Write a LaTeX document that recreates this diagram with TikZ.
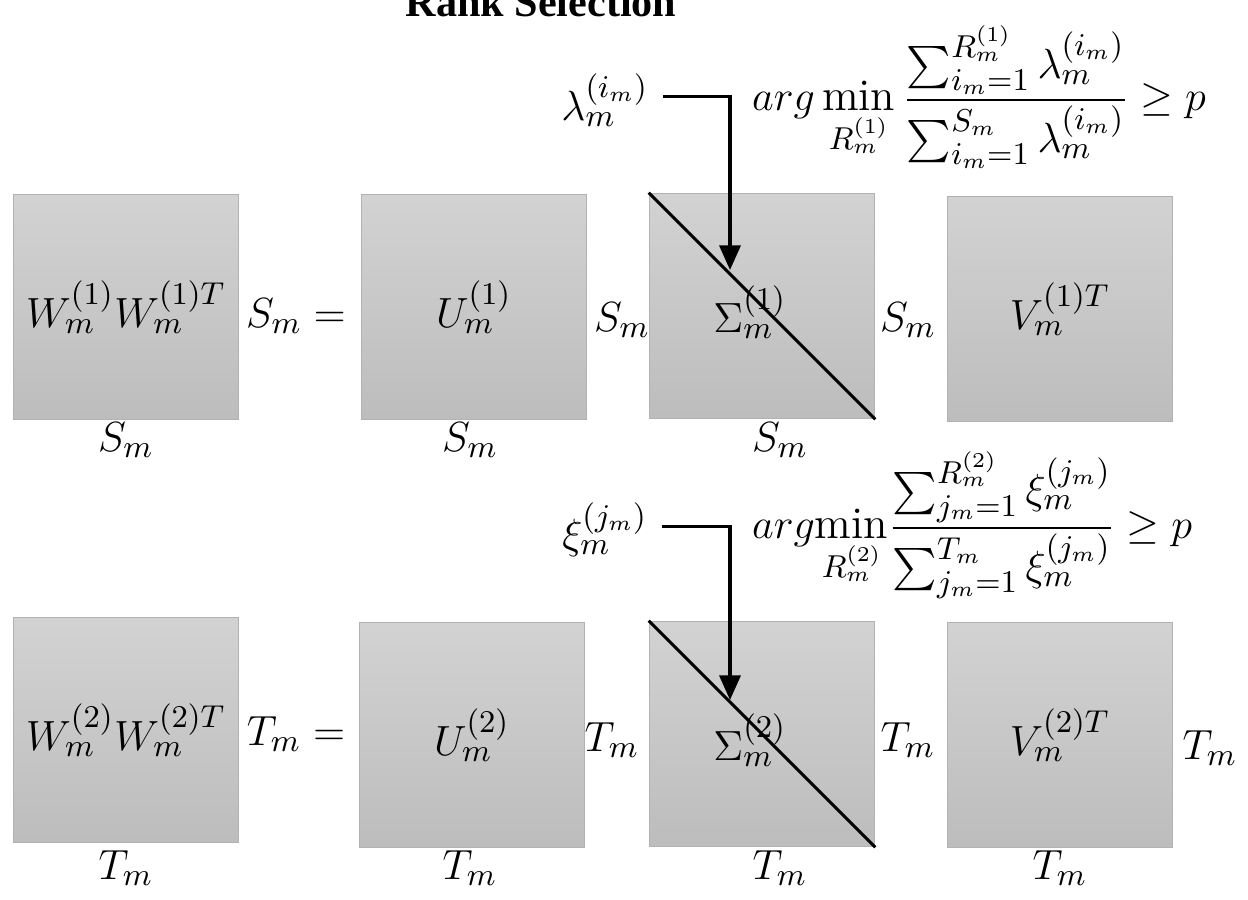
\documentclass[tikz,border=0pt]{standalone}
\usepackage{amsmath}
\usepackage{fontspec}
\newfontfamily\titlefont{Liberation Serif}
\usetikzlibrary{arrows.meta,positioning}
\newcommand\bigmath{\fontsize{12.8}{15}\selectfont}
\tikzset{
  mat/.style={draw=gray!60, top color=gray!35, bottom color=gray!52,
    minimum width=2.25cm, minimum height=2.25cm, inner sep=0pt, font=\bigmath},
  dim/.style={font=\bigmath, inner sep=1pt},
  sel/.style={-{Triangle[length=7pt,width=6pt]}, line width=0.9pt},
  diag/.style={line width=0.9pt},
}
\begin{document}
\begin{tikzpicture}[x=0.01cm,y=-0.01cm]
  \useasboundingbox (0,0) rectangle (1248,900);
  \node[font=\titlefont\bfseries\fontsize{12}{14}\selectfont, anchor=base] (title) at (541,17) {Rank Selection};

  % first row: S_m
  \node[mat] (w1) at (126,307) {$W_m^{(1)}W_m^{(1)T}$};
  \node[dim] (eq1) at (296,316) {$S_m =$};
  \node[mat] (u1) at (474,307) {$U_m^{(1)}$};
  \node[dim] (s1l) at (622,320) {$S_m$};
  \node[mat] (s1) at (762,306) {};
  \node[dim] at (750,312) (s1t) {$\Sigma_m^{(1)}$};
  \node[dim] (s1r) at (908,320) {$S_m$};
  \node[mat] (v1) at (1060,309) {$V_m^{(1)T}$};
  \node[dim] (w1b) at (126,440) {$S_m$};
  \node[dim] (u1b) at (470,440) {$S_m$};
  \node[dim] (s1b) at (780,440) {$S_m$};
  \draw[diag] (s1.north west) -- (s1.south east);

  \node[dim] (lam1) at (605,100) {$\lambda_m^{(i_m)}$};
  \node[dim, anchor=west] (crit1) at (748,97)
    {$\displaystyle arg\min_{R_m^{(1)}}\frac{\sum\nolimits_{i_m=1}^{R_m^{(1)}}\lambda_m^{(i_m)}}{\sum\nolimits_{i_m=1}^{S_m}\lambda_m^{(i_m)}} \geq p$};
  \coordinate (tip1) at (730,270);
  \draw[sel] ([xshift=3pt,yshift=1pt]lam1.east) -| (tip1);

  % second row: T_m
  \node[mat] (w2) at (126,730) {$W_m^{(2)}W_m^{(2)T}$};
  \node[dim] (eq2) at (296,734) {$T_m =$};
  \node[mat] (u2) at (472,735) {$U_m^{(2)}$};
  \node[dim] (s2l) at (612,740) {$T_m$};
  \node[mat] (s2) at (762,734) {};
  \node[dim] at (750,740) (s2t) {$\Sigma_m^{(2)}$};
  \node[dim] (s2r) at (908,740) {$T_m$};
  \node[mat] (v2) at (1060,735) {$V_m^{(2)T}$};
  \node[dim] (v2r) at (1210,748) {$T_m$};
  \node[dim] (w2b) at (126,868) {$T_m$};
  \node[dim] (u2b) at (470,868) {$T_m$};
  \node[dim] (s2b) at (780,868) {$T_m$};
  \node[dim] (v2b) at (1060,868) {$T_m$};
  \draw[diag] (s2.north west) -- (s2.south east);

  \node[dim] (xi2) at (605,530) {$\xi_m^{(j_m)}$};
  \node[dim, anchor=west] (crit2) at (748,525)
    {$\displaystyle arg{\min_{R_m^{(2)}}}\frac{\sum\nolimits_{j_m=1}^{R_m^{(2)}}\xi_m^{(j_m)}}{\sum\nolimits_{j_m=1}^{T_m}\xi_m^{(j_m)}} \geq p$};
  \coordinate (tip2) at (730,700);
  \draw[sel] ([xshift=3pt,yshift=1pt]xi2.east) -| (tip2);
\end{tikzpicture}
\end{document}
